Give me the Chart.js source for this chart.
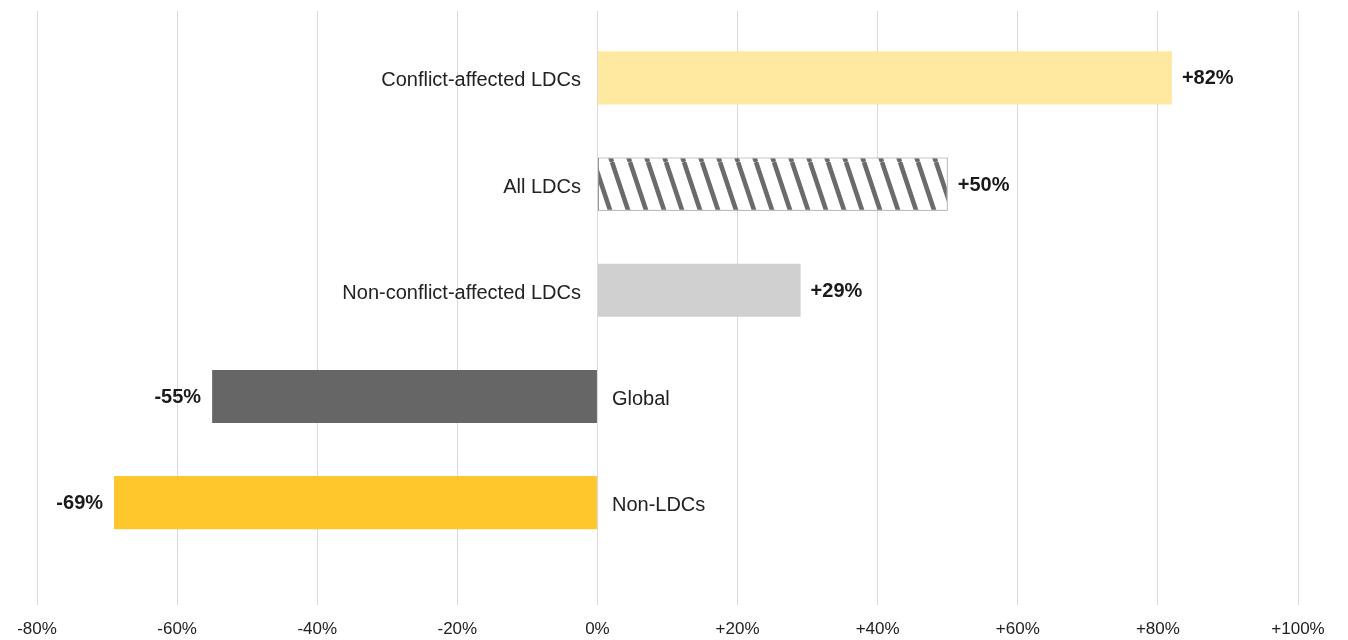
<!DOCTYPE html>
<html>
<head>
<meta charset="utf-8">
<script src="https://cdn.jsdelivr.net/npm/chart.js@4"></script>
<style>
  html, body { margin: 0; padding: 0; background: #fff; overflow: hidden; }
  #wrap { width: 1348px; height: 655px; }
</style>
</head>
<body>
<div id="wrap"><canvas id="chart"></canvas></div>
<script>
const categories = ["Conflict-affected LDCs", "All LDCs", "Non-conflict-affected LDCs", "Global", "Non-LDCs"];
const changes = [82, 50, 29, -55, -69];
const valueLabels = ["+82%", "+50%", "+29%", "-55%", "-69%"];
const xTicks = [-80, -60, -40, -20, 0, 20, 40, 60, 80, 100];

// diagonal hatch for the "All LDCs" bar
function makeHatch() {
    const c = document.createElement("canvas");
    c.width = 18;
    c.height = 54;
    const g = c.getContext("2d");
    g.fillStyle = "#fff";
    g.fillRect(0, 0, 18, 54);
    g.strokeStyle = "#6b6b6b";
    g.lineWidth = 4.6;
    for (let dx = -18; dx <= 18; dx += 18) {
        g.beginPath();
        g.moveTo(dx, 0);
        g.lineTo(dx + 18, 54);
        g.stroke();
    }
    return document.getElementById("chart").getContext("2d").createPattern(c, "repeat");
}

const colors = ["#ffe89f", makeHatch(), "#d0d0d0", "#666666", "#ffc72c"];

const barLabels = {
    id: "barLabels",
    afterDatasetsDraw(chart) {
        const ctx = chart.ctx;
        const meta = chart.getDatasetMeta(0);
        ctx.save();
        ctx.textBaseline = "middle";
        meta.data.forEach((bar, i) => {
            const positive = changes[i] >= 0;
            // category name on the other side of zero
            ctx.font = "20px 'Liberation Sans', Arial, sans-serif";
            ctx.fillStyle = "#222";
            ctx.textAlign = positive ? "right" : "left";
            ctx.fillText(categories[i], positive ? bar.base - 17 : bar.base + 15, bar.y + 3);
            // value at the end of the bar
            ctx.font = "bold 20px 'Liberation Sans', Arial, sans-serif";
            ctx.fillStyle = "#1a1a1a";
            ctx.textAlign = positive ? "left" : "right";
            ctx.fillText(valueLabels[i], positive ? bar.x + 10 : bar.x - 11, bar.y + 1);
        });
        ctx.restore();
    }
};

new Chart(document.getElementById("chart"), {
    type: "bar",
    data: {
        datasets: [{
            data: changes.map((v, i) => ({ x: v, y: i })),
            backgroundColor: colors,
            borderColor: ["transparent", "#8a8a8a", "transparent", "transparent", "transparent"],
            borderWidth: [0, 1, 0, 0, 0],
            borderSkipped: false,
            barPercentage: 0.5,
            categoryPercentage: 1
        }]
    },
    options: {
        indexAxis: "y",
        responsive: true,
        maintainAspectRatio: false,
        animation: false,
        layout: { padding: { left: 37, right: 50, top: 11, bottom: 0 } },
        plugins: {
            legend: { display: false },
            tooltip: { enabled: false }
        },
        scales: {
            x: {
                type: "linear",
                min: xTicks[0],
                max: xTicks[xTicks.length - 1],
                afterBuildTicks: (axis) => { axis.ticks = xTicks.map(v => ({ value: v })); },
                grid: { color: "#dadada", lineWidth: 1, drawTicks: false },
                border: { display: false },
                ticks: {
                    padding: 15,
                    color: "#222",
                    font: { family: "'Liberation Sans', Arial, sans-serif", size: 17 },
                    callback: (v) => (v > 0 ? "+" : "") + v + "%"
                }
            },
            y: {
                type: "linear",
                reverse: true,
                offset: false,
                min: -0.63,
                max: 4.96,
                afterBuildTicks: (axis) => { axis.ticks = categories.map((c, i) => ({ value: i })); },
                grid: { offset: false },
                display: false
            }
        }
    },
    plugins: [barLabels]
});
</script>
</body>
</html>
